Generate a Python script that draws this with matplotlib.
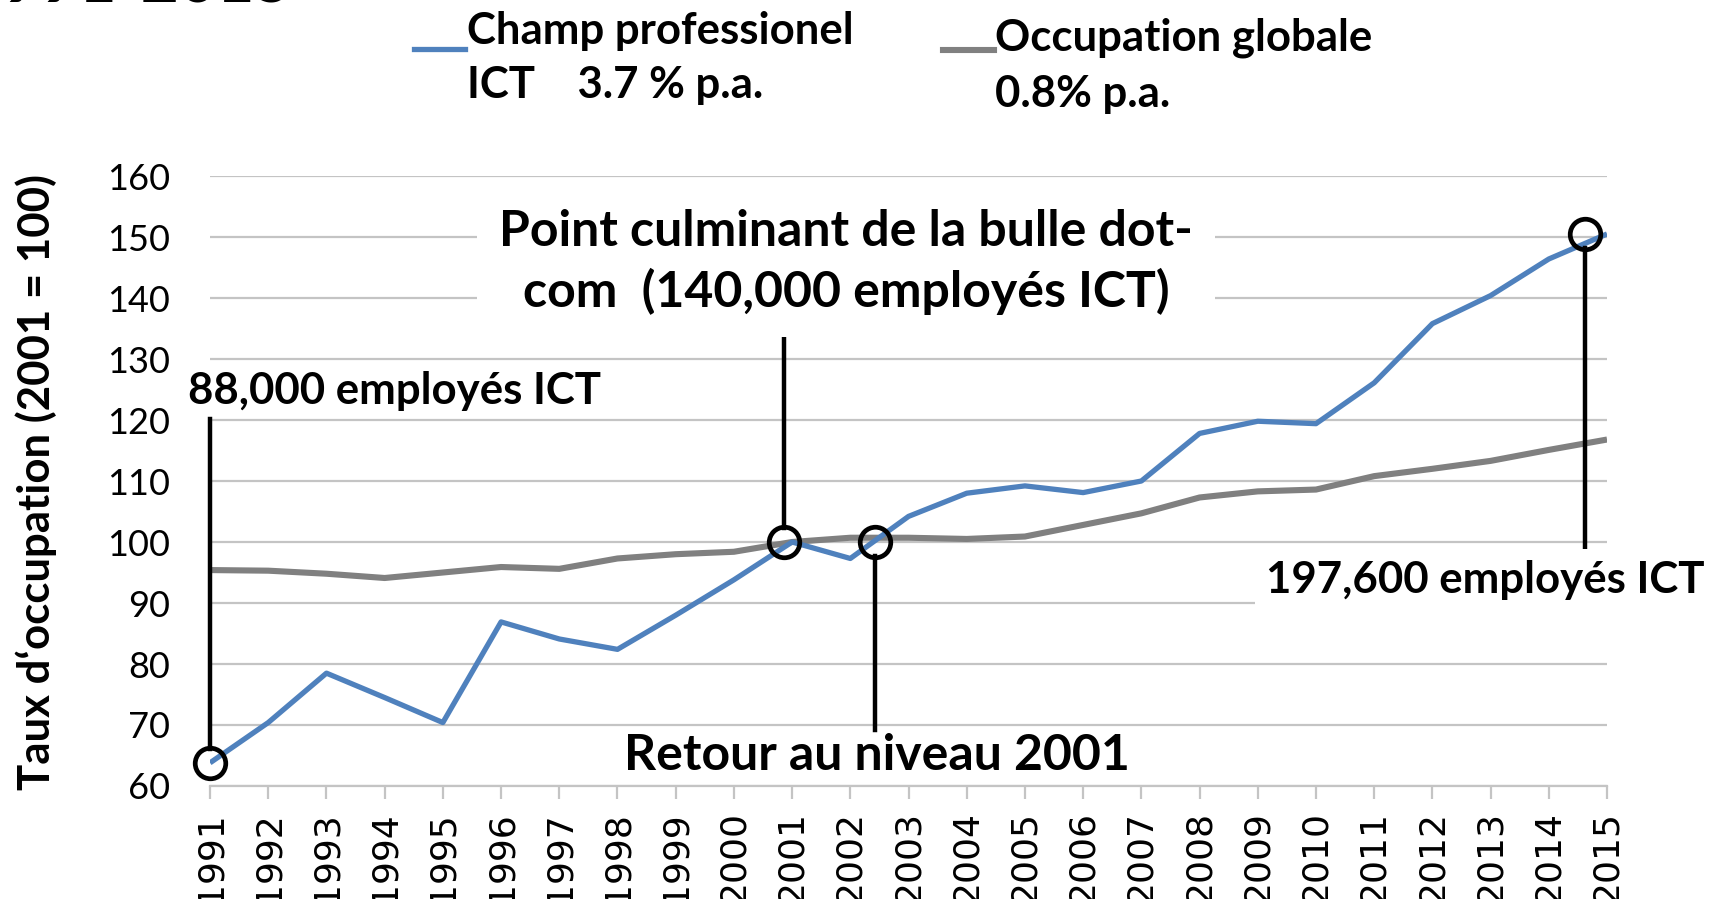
import matplotlib.pyplot as plt
import numpy as np

years = list(range(1991, 2016))
ict = [63.8, 70.4, 78.5, 74.5, 70.4, 86.9, 84.1, 82.4, 88.0, 93.8, 100.0, 97.3,
       104.2, 108.0, 109.2, 108.1, 110.0, 117.8, 119.8, 119.4, 126.1, 135.8,
       140.4, 146.4, 150.5]
glob = [95.4, 95.3, 94.8, 94.1, 95.0, 95.9, 95.6, 97.3, 98.0, 98.4, 100.0, 100.7,
        100.7, 100.5, 100.9, 102.8, 104.7, 107.3, 108.3, 108.6, 110.8, 112.0,
        113.3, 115.1, 116.8]

# annotated points (circles) and their pointer lines
circle_x = [1991, 2000.86, 2002.42, 2014.62]
circle_y = [63.8, 100, 100, 150.5]
pointer_top = [120.2, 135.0, 97.7, 148.2]
pointer_bottom = [66.1, 102.3, 69.2, 98.6]

blue = '#4F81BD'
grey = '#808080'
gridc = '#C4C4C4'

fig = plt.figure(figsize=(17.16, 8.99), dpi=100)
ax = fig.add_axes([0.1224, 0.1257, 0.8141, 0.6785])

ax.plot(years, glob, color=grey, lw=4.4, solid_capstyle='butt', zorder=3)
ax.plot(years, ict, color=blue, lw=3.8, solid_capstyle='butt', zorder=4)

for x, y0, y1 in zip(circle_x, pointer_bottom, pointer_top):
    ax.plot([x, x], [y0, y1], color='black', lw=3.2, zorder=5, clip_on=False)
ax.plot(circle_x, circle_y, 'o', ms=22, mfc='none', mec='black', mew=3.4,
        zorder=6, clip_on=False)

ax.set_xlim(1991, 2015)
ax.set_ylim(60, 160)
ax.set_yticks(np.arange(60, 161, 10))
ax.set_xticks(years)
# the year labels run past the bottom edge, as in the original
ax.set_xticklabels([str(y) for y in years], rotation=90, fontsize=26,
                   family='DejaVu Sans', va='top')
for lab in ax.get_yticklabels():
    lab.set_family('Lato')
    lab.set_fontsize(26)

ax.grid(axis='y', color=gridc, lw=1.6, zorder=0)
ax.set_axisbelow(True)
for s in ['top', 'right', 'left']:
    ax.spines[s].set_visible(False)
ax.spines['bottom'].set_color(gridc)
ax.spines['bottom'].set_linewidth(1.6)
ax.tick_params(axis='x', color=gridc, length=9, width=1.6, pad=9)
ax.tick_params(axis='y', length=0, pad=29)

small = dict(family='Lato', weight='bold', fontsize=31.5)
big = dict(family='Lato', weight='bold', fontsize=36)

ax.text(1990.62, 124.8, '88,000 employés ICT', ha='left', va='center',
        bbox=dict(facecolor='white', edgecolor='none', pad=4), zorder=7, **small)
ax.text(2001.93, 145.9, 'Point culminant de la bulle dot-\ncom  (140,000 employés ICT)',
        ha='center', va='center', multialignment='center', linespacing=1.35,
        bbox=dict(facecolor='white', edgecolor='none', pad=16), zorder=7, **big)
ax.text(2002.45, 65.0, 'Retour au niveau 2001', ha='center', va='center',
        zorder=7, **big)
ax.text(2012.91, 93.75, '197,600 employés ICT', ha='center', va='center',
        bbox=dict(facecolor='white', edgecolor='none', pad=8), zorder=7,
        clip_on=False, **small)

# y label
fig.text(0.021, 0.4644, 'Taux d\u2018occupation (2001 = 100)', rotation=90,
         ha='center', va='center', family='Lato', weight='bold', fontsize=31.5)

# legend drawn by hand at the top
fig.add_artist(plt.Line2D([0.2413, 0.2710], [0.9455, 0.9455], color=blue, lw=3.8))
fig.text(0.2723, 0.9355, 'Champ professionel\nICT    3.7 % p.a.', ha='left',
         va='center', linespacing=1.45, **small)
fig.add_artist(plt.Line2D([0.5495, 0.5792], [0.9440, 0.9440], color=grey, lw=4.4))
fig.text(0.5798, 0.9270, 'Occupation globale\n0.8% p.a.', ha='left',
         va='center', linespacing=1.5, **small)

# title, cut off at the top edge
fig.text(0.1707, 0.9972, '1991-2015', ha='right', va='baseline', family='Lato',
         weight='bold', fontsize=47)

fig.savefig('out.png', dpi=100)
